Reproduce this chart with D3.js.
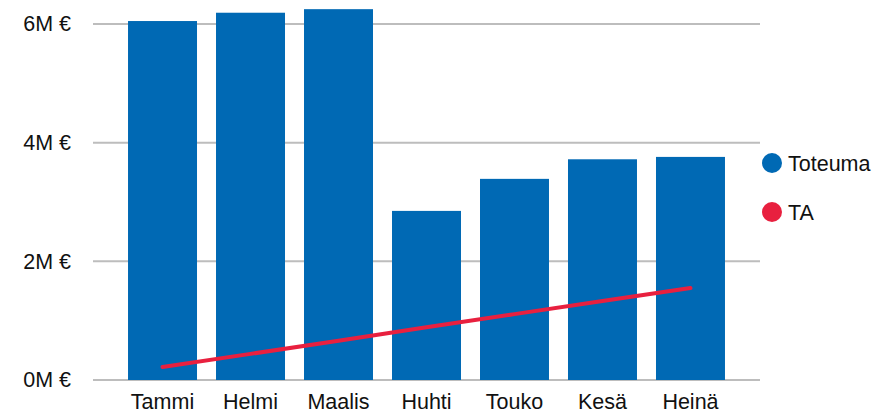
<!DOCTYPE html>
<html>
<head>
<meta charset="utf-8">
<script src="https://cdn.jsdelivr.net/npm/d3@7"></script>
<style>
  body { margin: 0; background: #fff; }
  text { font-family: "Liberation Sans", Arial, sans-serif; }
</style>
</head>
<body>
<svg width="876" height="418" id="mainsvg"></svg>
<script>
// data
const months = ['Tammi', 'Helmi', 'Maalis', 'Huhti', 'Touko', 'Kesä', 'Heinä'];
const toteuma = [6.05e6, 6.19e6, 6.25e6, 2.85e6, 3.39e6, 3.72e6, 3.76e6];
const ta = [0.22e6, 0.44e6, 0.66e6, 0.89e6, 1.11e6, 1.33e6, 1.55e6];
const yTicks = [0, 2e6, 4e6, 6e6];
const seriesNames = ['Toteuma', 'TA'];
const colors = ['#0069b4', '#e8203f'];

const svg = d3.select('#mainsvg');
const fontSize = 21.5;

const x = d3.scaleBand().domain(months).range([93, 760])
  .paddingInner(0.216).paddingOuter(0.398);
const y = d3.scaleLinear().domain([0, 6e6]).range([380, 24]);

// gridlines
svg.append('g').selectAll('line').data(yTicks).join('line')
  .attr('x1', 93).attr('x2', 760)
  .attr('y1', d => y(d)).attr('y2', d => y(d))
  .attr('stroke', '#bdbdbd').attr('stroke-width', 2);

// y axis labels
const yAxis = d3.axisLeft(y).tickValues(yTicks).tickSize(0).tickPadding(0)
  .tickFormat(d => (d / 1e6) + 'M €');
svg.append('g').attr('transform', 'translate(71,0)').call(yAxis)
  .call(g => g.select('.domain').remove())
  .selectAll('text').attr('font-size', fontSize).attr('fill', '#111')
  .attr('font-family', '"Liberation Sans", Arial, sans-serif');

// bars
svg.append('g').selectAll('rect').data(toteuma).join('rect')
  .attr('x', (d, i) => x(months[i]))
  .attr('y', d => y(d))
  .attr('width', x.bandwidth())
  .attr('height', d => y(0) - y(d))
  .attr('fill', colors[0]);

// x axis labels
const xAxis = d3.axisBottom(x).tickSize(0).tickPadding(13);
svg.append('g').attr('transform', 'translate(0,381)').call(xAxis)
  .call(g => g.select('.domain').remove())
  .selectAll('text').attr('font-size', fontSize).attr('fill', '#111')
  .attr('font-family', '"Liberation Sans", Arial, sans-serif');

// TA line
const line = d3.line()
  .x((d, i) => x(months[i]) + x.bandwidth() / 2)
  .y(d => y(d));
svg.append('path').datum(ta)
  .attr('d', line)
  .attr('fill', 'none')
  .attr('stroke', colors[1])
  .attr('stroke-width', 4)
  .attr('stroke-linecap', 'round');

// legend
const legend = svg.append('g').selectAll('g').data(seriesNames).join('g')
  .attr('transform', (d, i) => `translate(772,${163 + i * 49})`);
legend.append('circle').attr('r', 10).attr('fill', (d, i) => colors[i]);
legend.append('text').attr('x', 16).attr('dy', '0.35em')
  .attr('font-size', fontSize).attr('fill', '#111').text(d => d);
</script>
</body>
</html>
